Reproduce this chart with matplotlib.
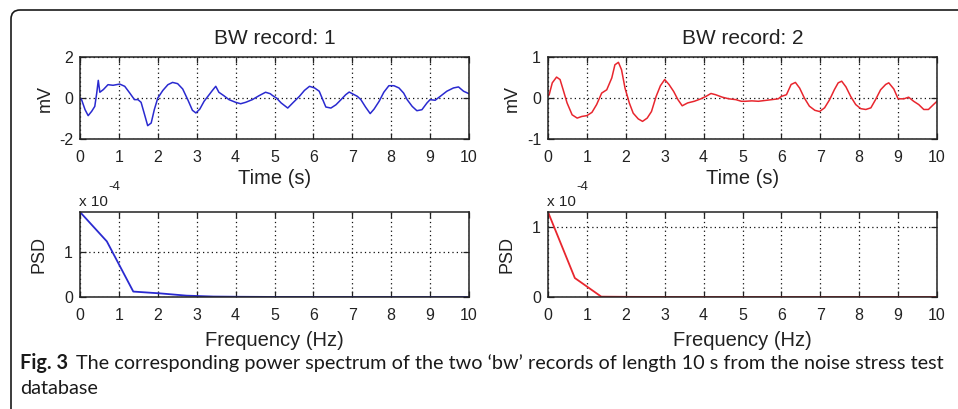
import matplotlib
matplotlib.use('Agg')
import matplotlib.pyplot as plt
from matplotlib.patches import FancyBboxPatch
from matplotlib.transforms import IdentityTransform
from matplotlib.ticker import FuncFormatter

# ---------------- data ----------------
t1 = [0.0, 0.04, 0.13, 0.21, 0.30, 0.38, 0.43, 0.47, 0.51, 0.60, 0.72, 0.85, 1.02, 1.15, 1.28,
      1.40, 1.49, 1.57, 1.66, 1.74, 1.83, 1.91, 2.00, 2.13, 2.26, 2.38, 2.51, 2.64, 2.77, 2.89,
      2.98, 3.08, 3.19, 3.32, 3.40, 3.49, 3.57, 3.70, 3.83, 4.00, 4.13, 4.26, 4.43, 4.60, 4.77,
      4.89, 4.95, 5.05, 5.17, 5.34, 5.47, 5.64, 5.77, 5.90, 6.03, 6.15, 6.24, 6.32, 6.45, 6.58,
      6.71, 6.83, 6.92, 7.00, 7.13, 7.22, 7.34, 7.46, 7.56, 7.69, 7.81, 7.94, 8.07, 8.20, 8.32,
      8.41, 8.54, 8.66, 8.79, 8.92, 9.00, 9.13, 9.26, 9.43, 9.60, 9.73, 9.86, 10.0]
v1 = [0.0, -0.08, -0.57, -0.86, -0.65, -0.41, 0.24, 0.86, 0.28, 0.41, 0.65, 0.62, 0.68, 0.57, 0.24,
      -0.08, -0.08, -0.21, -0.81, -1.35, -1.22, -0.57, 0.0, 0.37, 0.65, 0.76, 0.70, 0.44, -0.08, -0.60,
      -0.73, -0.54, -0.16, 0.16, 0.36, 0.57, 0.28, 0.11, -0.08, -0.21, -0.28, -0.21, -0.08, 0.11, 0.28,
      0.21, 0.12, 0.0, -0.24, -0.49, -0.24, 0.08, 0.37, 0.57, 0.49, 0.33, -0.08, -0.44, -0.49, -0.33,
      -0.08, 0.16, 0.29, 0.21, 0.08, -0.08, -0.44, -0.76, -0.54, -0.16, 0.28, 0.60, 0.60, 0.49, 0.24,
      -0.08, -0.41, -0.62, -0.57, -0.24, -0.08, -0.11, 0.08, 0.33, 0.49, 0.54, 0.33, 0.21]

t2 = [0.0, 0.03, 0.11, 0.22, 0.31, 0.39, 0.49, 0.62, 0.75, 0.87, 1.00, 1.13, 1.25, 1.38, 1.51,
      1.64, 1.72, 1.81, 1.89, 1.98, 2.09, 2.19, 2.32, 2.43, 2.55, 2.66, 2.78, 2.89, 3.00, 3.11,
      3.23, 3.34, 3.45, 3.59, 3.76, 3.93, 4.06, 4.19, 4.31, 4.48, 4.65, 4.83, 4.97, 5.07, 5.24,
      5.41, 5.58, 5.75, 5.92, 6.00, 6.13, 6.25, 6.36, 6.47, 6.59, 6.72, 6.86, 6.98, 7.11, 7.24,
      7.36, 7.46, 7.55, 7.66, 7.78, 7.91, 8.04, 8.17, 8.30, 8.42, 8.55, 8.68, 8.76, 8.89, 9.00,
      9.15, 9.27, 9.40, 9.53, 9.66, 9.78, 9.91, 10.0]
v2 = [0.05, 0.08, 0.37, 0.51, 0.45, 0.20, -0.12, -0.41, -0.49, -0.45, -0.43, -0.35, -0.16, 0.12, 0.20,
      0.49, 0.81, 0.87, 0.69, 0.24, -0.12, -0.37, -0.51, -0.57, -0.49, -0.33, 0.04, 0.30, 0.45, 0.33,
      0.16, -0.04, -0.19, -0.12, -0.08, -0.02, 0.04, 0.11, 0.08, 0.02, -0.02, -0.04, -0.08, -0.08, -0.07,
      -0.08, -0.06, -0.04, -0.02, 0.04, 0.08, 0.33, 0.38, 0.24, 0.0, -0.20, -0.30, -0.33, -0.24, -0.04,
      0.20, 0.37, 0.41, 0.27, 0.04, -0.16, -0.26, -0.28, -0.24, -0.04, 0.20, 0.33, 0.37, 0.22, -0.02,
      -0.02, 0.02, -0.08, -0.16, -0.28, -0.28, -0.16, -0.08]

freq = [0.0, 0.69, 1.37, 2.06, 2.74, 3.43, 4.11, 4.80, 5.49, 6.17, 6.86, 7.54, 8.23, 8.91, 9.60, 10.29]
psd1 = [1.88e-4, 1.23e-4, 0.12e-4, 0.08e-4, 0.03e-4, 0.01e-4, 0.005e-4, 0.002e-4, 0.001e-4,
        0.0, 0.0, 0.0, 0.0, 0.0, 0.0, 0.0]
psd2 = [1.21e-4, 0.27e-4, 0.005e-4, 0.002e-4, 0.001e-4, 0.0, 0.0, 0.0, 0.0,
        0.0, 0.0, 0.0, 0.0, 0.0, 0.0, 0.0]

titles = ['BW record: 1', 'BW record: 2']
xticks = list(range(0, 11))
yticks_sig = [[-2, 0, 2], [-1, 0, 1]]
ylims_sig = [(-2, 2), (-1, 1)]
yticks_psd = [0, 1e-4]
caption_bold = 'Fig. 3'
caption_line1 = 'The corresponding power spectrum of the two \u2018bw\u2019 records of length 10 s from the noise stress test'
caption_line2 = 'database'

# ---------------- figure ----------------
plt.rcParams['font.family'] = ['Liberation Sans', 'DejaVu Sans']
plt.rcParams['axes.unicode_minus'] = False
W, H = 958, 409
fig = plt.figure(figsize=(W / 100, H / 100), dpi=100)

def px(x0, y0, x1, y1):
    return [x0 / W, 1 - y1 / H, (x1 - x0) / W, (y1 - y0) / H]

sig_ax = [fig.add_axes(px(80, 57, 469, 139)), fig.add_axes(px(548, 57, 937, 139))]
psd_ax = [fig.add_axes(px(80, 212, 469, 297)), fig.add_axes(px(548, 212, 937, 297))]

colors = ['#2a2ad0', '#e8262e']
txt = '#222222'

def style(ax):
    ax.grid(True, linestyle=(0, (1, 2.5)), color='#111111', linewidth=0.9)
    ax.tick_params(direction='in', top=True, right=True, labelsize=11.5, length=4,
                   width=0.9, colors=txt)
    ax.tick_params(axis='x', pad=8)
    ax.tick_params(axis='y', pad=5)
    for s in ax.spines.values():
        s.set_linewidth(1.1)
        s.set_color(txt)
    ax.set_xlim(0, 10)
    ax.set_xticks(xticks)

for i, (t, v) in enumerate([(t1, v1), (t2, v2)]):
    ax = sig_ax[i]
    ax.plot(t, v, color=colors[i], linewidth=1.1)
    style(ax)
    ax.set_ylim(*ylims_sig[i])
    ax.set_yticks(yticks_sig[i])
    ax.set_title(titles[i], fontsize=15, pad=9, color=txt)
    ax.set_xlabel('Time (s)', fontsize=14.5, labelpad=3, color=txt)
    ax.set_ylabel('mV', fontsize=13, labelpad=4, color=txt)

for i, p in enumerate([psd1, psd2]):
    ax = psd_ax[i]
    ax.plot(freq, p, color=colors[i], linewidth=1.3)
    style(ax)
    ax.set_ylim(0, max(p))
    ax.set_yticks(yticks_psd)
    ax.yaxis.set_major_formatter(FuncFormatter(lambda v, _: f'{v / 1e-4:g}'))
    ax.set_xlabel('Frequency (Hz)', fontsize=14.5, labelpad=6, color=txt)
    ax.set_ylabel('PSD', fontsize=13, labelpad=12, color=txt)
    x0 = [79, 547][i]
    fig.text(x0 / W, 1 - 206 / H, 'x 10', fontsize=11, va='baseline', ha='left', color=txt)
    fig.text((x0 + 29) / W, 1 - 190 / H, '-4', fontsize=9.5, va='baseline', ha='left', color=txt)

# rounded frame (only top and left visible)
frame = FancyBboxPatch((11, -100), 1200, H - 10 + 100,
                       boxstyle='round,pad=0,rounding_size=9',
                       transform=IdentityTransform(), facecolor='none',
                       edgecolor='#1a1a1a', linewidth=1.2)
fig.patches.append(frame)

# caption
cap_font = ['Lato', 'DejaVu Sans']
fig.canvas.draw()
r = fig.canvas.get_renderer()
fs = 13
tb = fig.text(20 / W, 1 - 369 / H, caption_bold, fontsize=fs, fontweight='bold',
              family=cap_font, va='baseline', ha='left', color='#1a1a1a')
bw = tb.get_window_extent(r).width
tl = fig.text((20 + bw + 8) / W, 1 - 369 / H, caption_line1, fontsize=fs,
              family=cap_font, va='baseline', ha='left', color='#1a1a1a')
lw = tl.get_window_extent(r).width
target = 940 - (20 + bw + 8)
scale = target / lw
fs2 = fs * scale
tb.set_fontsize(fs2)
bw = tb.get_window_extent(r).width
tl.set_fontsize(fs2)
tl.set_x((20 + bw + 8) / W)
fig.text(20 / W, 1 - 394 / H, caption_line2, fontsize=fs2, family=cap_font,
         va='baseline', ha='left', color='#1a1a1a')

fig.savefig('out.png', dpi=100)
